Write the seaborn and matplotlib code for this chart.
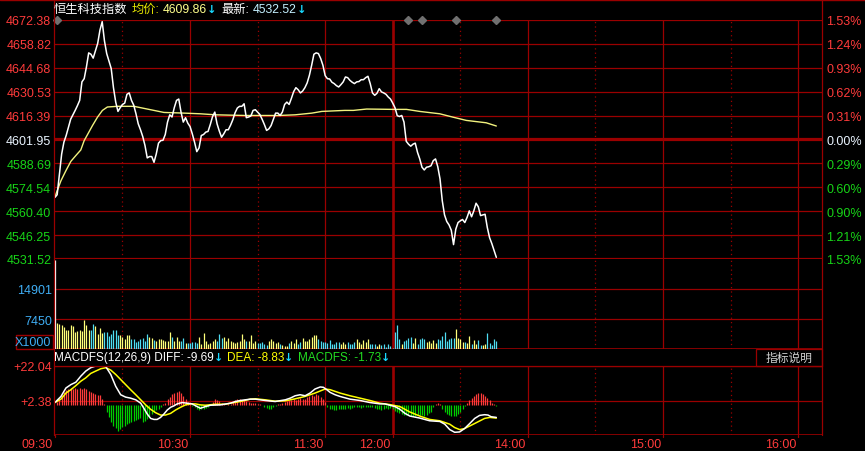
import numpy as np
import matplotlib
matplotlib.use('Agg')
import matplotlib.pyplot as plt
from matplotlib.lines import Line2D
from matplotlib.patches import Rectangle
from matplotlib.transforms import blended_transform_factory, offset_copy
import seaborn as sns

# minute index from 09:30 (lunch break 12:00-13:00 collapsed), session ends 16:10
price = [4567.8, 4569.4, 4581.6, 4593.4, 4600.4, 4604.3, 4609.2, 4613.9, 4616.5, 4619.1,
         4621.9, 4625.0, 4635.9, 4637.8, 4644.7, 4653.0, 4652.2, 4649.9, 4654.2, 4658.6,
         4666.4, 4671.4, 4660.1, 4652.6, 4648.3, 4643.8, 4632.5, 4624.0, 4618.5, 4620.7,
         4622.6, 4623.4, 4628.6, 4629.4, 4625.0, 4622.2, 4617.1, 4611.2, 4607.7, 4603.7,
         4598.4, 4591.1, 4591.9, 4591.9, 4588.5, 4593.4, 4599.8, 4601.3, 4601.5, 4604.9,
         4612.2, 4616.5, 4615.2, 4620.7, 4625.0, 4625.8, 4618.1, 4612.2, 4614.8, 4611.6,
         4609.6, 4605.3, 4600.4, 4594.8, 4597.0, 4604.3, 4604.9, 4606.3, 4606.7, 4610.8,
         4615.5, 4618.1, 4611.2, 4606.9, 4603.3, 4605.3, 4607.7, 4607.7, 4610.4, 4613.6,
         4617.7, 4620.5, 4621.5, 4621.5, 4623.0, 4614.8, 4615.2, 4615.8, 4619.1, 4619.5,
         4618.1, 4616.7, 4613.9, 4610.8, 4607.3, 4608.2, 4610.2, 4613.9, 4617.5, 4617.5,
         4616.1, 4618.1, 4622.6, 4624.0, 4622.6, 4626.2, 4630.1, 4632.5, 4631.3, 4629.4,
         4630.5, 4632.5, 4635.3, 4639.8, 4645.7, 4652.2, 4653.0, 4652.6, 4649.7, 4645.7,
         4639.6, 4637.8, 4637.6, 4635.7, 4634.9, 4633.7, 4632.9, 4634.3, 4635.9, 4638.8,
         4638.4, 4636.8, 4635.7, 4634.9, 4635.9, 4636.1, 4637.2, 4637.2, 4638.4, 4639.2,
         4634.9, 4629.4, 4628.0, 4629.2, 4631.9, 4630.0, 4629.4, 4628.6, 4627.0, 4625.8,
         4623.4, 4620.7, 4616.0, 4615.5, 4616.1, 4612.2, 4600.9, 4599.2, 4598.0, 4599.2,
         4599.8, 4594.4, 4590.5, 4585.6, 4584.0, 4585.6, 4585.9, 4586.5, 4589.5, 4590.5,
         4585.9, 4578.7, 4565.8, 4557.5, 4553.6, 4551.6, 4548.5, 4540.0, 4549.1, 4553.0,
         4554.0, 4554.8, 4553.0, 4556.0, 4559.9, 4556.4, 4559.9, 4564.4, 4562.3, 4557.1,
         4557.5, 4557.9, 4550.0, 4544.1, 4540.6, 4536.6, 4532.5]

avg_min = [0, 2.7, 4.9, 7.1, 9.3, 11.5, 13, 14.5, 16.7, 18.9, 21.1, 23.3, 27.7, 35.1, 42.5,
           48.4, 57.3, 64.6, 71.3, 84.6, 99.3, 106.7, 114.1, 118.5, 128.7, 132.5, 138.4,
           150.2, 156.1, 162, 170.9, 176.8, 182.7, 191.5, 196]
avg_price = [4568.2, 4577.7, 4583.6, 4589.1, 4592.5, 4595.8, 4601.3, 4604.9, 4610.2, 4615.1,
             4619.1, 4621.1, 4621.5, 4621.5, 4619.5, 4617.9, 4617.5, 4617.1, 4616.5, 4616.1,
             4616.1, 4616.5, 4617.5, 4618.5, 4619.1, 4619.1, 4619.9, 4619.7, 4619.7, 4618.5,
             4617.1, 4615.1, 4613.2, 4611.8, 4609.9]

# volume (x1000)
volume = [22000,
          6530, 6280, 5860, 5440, 4770, 4600, 6030, 5610, 4190, 4440, 4600, 4440, 7280, 6030,
          4600, 4770, 6280, 5690, 3770, 5270, 4020, 4270, 4100, 3350, 3770, 4770, 4600, 3430,
          3430, 3100, 2510, 3520, 3520, 2430, 2510, 1670, 1930, 2510, 2760, 2090, 3770, 2930,
          2760, 2260, 1930, 2430, 2510, 2260, 1930, 1930, 4100, 2930, 1930, 3100, 1930, 1930,
          2760, 1420, 1420, 1420, 1760, 1760, 1420, 3100, 1260, 3930, 1930, 1260, 1590, 1930,
          2590, 1930, 3770, 2760, 3100, 1930, 2760, 1930, 1760, 1590, 1760, 1930, 3770, 2430,
          1930, 1930, 3600, 1590, 1930, 1590, 1420, 1760, 1260, 1090, 1930, 2510, 1930, 1590,
          1760, 1260, 1090, 750, 750, 1420, 2090, 1420, 2430, 1260,
          1620, 2750, 1940, 1940, 2430, 3000, 3560, 3400, 2430, 2100, 1780, 1620, 1460, 2270,
          1130, 1130, 1780, 1780, 1130, 1620, 1130, 1780, 1130, 1300, 1620, 2430, 1780, 1130,
          2270, 1780, 2590, 1300, 1130, 1300, 810,
          1130, 970, 1300, 490, 1260, 840, 300, 4270, 6030,
          2430, 1260, 1930, 2260, 2760, 2930, 1510, 2760, 1260, 2430, 2760, 2430, 1760, 1930,
          1420, 2260, 1420, 2430, 2260, 3260, 4270, 1930, 2430, 2760, 2760, 5020, 2760, 2430,
          1760, 1760, 1590, 3260, 1260, 2260, 1260, 2260, 1090, 1090, 1260, 4020, 1420, 920,
          2430, 1930]

diff_min = [0, 2.7, 4.9, 7.1, 9.3, 11.5, 13.7, 15.9, 18.1, 20.4, 22.6, 24.8, 27.0, 29.2, 31.4,
            33.6, 35.9, 38.1, 39.5, 41.0, 42.5, 44.0, 45.4, 46.9, 48.4, 49.9, 51.4, 52.8,
            54.3, 56.5, 58.7, 60.9, 63.2, 64.6, 66.8, 69.1, 73.5, 77.9, 80.1, 82.3, 86.8,
            89.0, 93.4, 97.8, 102.3, 104.5, 106.7, 108.9, 111.1, 113.3, 115.5, 117.8, 119.2,
            120.7, 122.2, 124.4, 126.6, 131.0, 135.5, 139.9, 144.3, 146.5, 148.7, 151.0,
            153.2, 155.4, 157.6, 162.0, 166.4, 170.9, 173.1, 175.3, 177.5, 179.7, 181.9,
            184.2, 186.4, 188.6, 190.8, 192.3, 193.7, 196.0]
diff_val = [1.22, 4.69, 9.51, 11.44, 12.79, 16.25, 19.14, 21.07, 22.04, 22.42, 21.65, 17.22,
            10.47, 5.66, 4.31, 3.73, 2.77, 0.84, -2.05, -5.33, -7.83, -8.41, -8.41, -7.26,
            -5.33, -3.02, -1.47, -0.70, 0.45, 1.22, 0.84, 0.45, -1.09, -2.05, -1.09, -0.32,
            -0.12, 0.84, 1.80, 2.38, 3.15, 3.15, 2.38, 1.80, 2.77, 3.73, 5.08, 5.66, 5.08,
            6.62, 8.93, 10.09, 9.90, 8.55, 7.00, 5.66, 4.69, 3.15, 2.38, 1.22, 0.45, 0.45,
            -0.32, -1.09, -2.63, -4.94, -6.48, -7.64, -9.18, -9.57, -11.11, -14.19, -15.73,
            -15.54, -13.61, -10.72, -7.83, -6.10, -5.71, -5.91, -6.87, -7.26]

dea_min = [0, 2.7, 4.9, 7.1, 9.3, 11.5, 13.7, 15.9, 18.1, 20.4, 22.6, 24.8, 27.0, 29.2, 31.4,
           33.6, 35.9, 38.1, 40.3, 42.5, 44.7, 46.9, 49.1, 51.4, 53.6, 55.8, 58.0, 60.2,
           62.4, 64.6, 66.8, 71.3, 75.7, 77.9, 82.3, 86.8, 89.0, 93.4, 97.8, 102.3, 106.7,
           111.1, 115.5, 120.0, 122.2, 126.6, 131.0, 135.5, 139.9, 144.3, 148.7, 153.2,
           157.6, 162.0, 166.4, 170.9, 175.3, 177.5, 179.7, 181.9, 186.4, 190.8, 193.1, 196.0]
dea_val = [1.22, 3.15, 6.62, 8.55, 10.86, 13.36, 15.29, 17.80, 19.14, 20.49, 21.07, 19.72,
           17.22, 14.33, 11.44, 8.55, 5.66, 2.77, -0.12, -2.63, -4.56, -5.91, -5.91, -4.94,
           -3.02, -1.47, -0.12, 0.45, 0.45, -0.12, -0.32, 0.26, 0.26, 0.84, 1.80, 3.15, 3.34,
           2.77, 1.99, 2.19, 3.34, 4.69, 6.62, 8.93, 8.55, 6.62, 5.08, 3.73, 2.38, 0.84,
           0.07, -1.09, -4.17, -6.48, -8.41, -9.18, -11.11, -13.04, -14.19, -13.61, -10.72,
           -7.83, -7.26, -7.64]

macd_hist = [0.0,
             1.5, 3.5, 5.4, 7.3, 8.3, 9.2, 9.6, 8.9, 9.6, 9.2, 9.6, 9.2, 9.6, 8.9, 7.7, 7.3,
             6.4, 5.8, 5.4, 5.4, 3.5, 0.5,
             -4.2, -7.1, -10.0, -11.9, -13.5, -14.8, -13.9, -12.9, -11.9, -11.0, -10.4, -9.6,
             -9.1, -8.5, -8.1, -7.7, -10.0, -9.1, -8.1, -6.6, -5.2, -4.2, -3.3, -2.7, -1.3,
             0.3,
             1.2, 3.5, 4.4, 5.8, 6.4, 7.3, 7.7, 6.4, 5.0, 3.1, 1.5,
             0.3, -0.5,
             -1.3, -2.7, -3.3, -2.7, -2.3, -1.9, -1.3,
             -0.4,
             1.5, 3.1, 2.5, 1.9, 1.2,
             0.3, -0.3, 0.2, 0.5,
             1.5, 2.5, 3.5, 3.1, 2.9, 2.5, 1.9, 1.5, 1.2, 1.2, 0.8, 0.6, 0.4,
             -0.4,
             -1.3, -1.9, -2.7, -2.3, -1.5, -0.8,
             0.2,
             0.6, 1.2, 1.5, 1.9, 2.5, 2.9, 3.1, 2.5, 3.5, 3.9, 3.1, 3.5, 4.4, 5.0, 5.4, 5.0,
             5.8, 5.4, 4.4, 3.5, 1.5,
             -1.3, -2.3, -2.7, -3.3, -3.3, -2.7, -2.3, -2.7, -2.3, -1.9, -2.3, -1.9, -1.5,
             -1.3, -1.5, -1.9, -1.5, -1.3, -1.2, -1.3, -1.5, -1.9, -2.3, -2.7, -2.9, -2.3,
             -1.9, -2.3,
             -2.0, -2.7, -3.5, -4.2, -4.8, -5.2, -5.6, -5.8, -6.0, -6.2, -6.4, -6.2, -6.0,
             -5.8, -6.0, -6.2, -5.8, -5.0, -3.9, -1.5, 0.4, 1.0, 0.4, -2.5, -4.2, -5.2, -6.0,
             -6.6, -6.6, -6.2, -5.4, -3.9, -2.3, -0.8,
             1.2, 2.5, 3.9, 5.0, 5.8, 6.4, 6.4, 5.8, 5.0, 3.9, 2.5, 1.2,
             0.3, -1.0]

event_min = [1, 157, 163, 178, 196]

price_labels = ['4672.38', '4658.82', '4644.68', '4630.53', '4616.39', '4601.95',
                '4588.69', '4574.54', '4560.40', '4546.25', '4531.52']
pct_labels = ['1.53%', '1.24%', '0.93%', '0.62%', '0.31%', '0.00%',
              '0.29%', '0.60%', '0.90%', '1.21%', '1.53%']
vol_ticks = [7450, 14901]
macd_ticks = [2.38, 22.04]
macd_labels = ['+2.38', '+22.04']
time_pos = [0, 60, 120, 150, 210, 270, 330]
time_labels = ['09:30', '10:30', '11:30', '12:00', '14:00', '15:00', '16:00']
solid_min = [60, 120, 210, 270, 330]
dotted_min = [30, 90, 180, 240, 300]

RED = '#FF3B3B'
GREEN = '#17D417'
GRID = '#9A0000'
BLUE = '#3FAEF5'
ARROW = '#19D9FF'

sns.set_style('dark', {'axes.facecolor': 'black', 'figure.facecolor': 'black'})
plt.rcParams['font.family'] = ['Liberation Sans', 'Noto Sans CJK SC', 'DejaVu Sans']
plt.rcParams['font.size'] = 9

W, H = 865, 452
fig = plt.figure(figsize=(W / 100, H / 100), dpi=100, facecolor='black')
renderer = fig.canvas.get_renderer()


def pane(top, bottom):
    ax = fig.add_axes([54 / W, 1 - bottom / H, 768 / W, (bottom - top) / H])
    ax.set_facecolor('black')
    for s in ax.spines.values():
        s.set_visible(False)
    ax.set_xlim(-0.4, 340.6)
    ax.set_xticks([])
    ax.grid(False)
    for m in solid_min:
        ax.axvline(m, color=GRID, lw=0.9, zorder=0)
    ax.axvline(150, color=GRID, lw=1.9, zorder=0)
    for m in dotted_min:
        ax.axvline(m, color=GRID, lw=0.9, ls=(0, (1, 2.5)), zorder=0)
    return ax


def ftext(x, y, s, color, ha='left', size=9):
    fig.text(x / W, 1 - y / H, s, color=color, ha=ha, va='center', fontsize=size)


def text_row(x, y, parts, size):
    # parts: (text, colour, gap after); arrows drawn bold in DejaVu
    for s, c, gap in parts:
        kw = {}
        if s == '↓':
            kw = dict(family='DejaVu Sans', fontweight='bold', fontsize=size - 0.6)
        else:
            kw = dict(fontsize=size)
        t = fig.text(x / W, 1 - y / H, s, color=c, ha='left', va='center', **kw)
        x = t.get_window_extent(renderer).x1 + gap


minutes = np.arange(len(price))
lo, hi = 4531.52, 4672.38
pticks = np.linspace(hi, lo, 11)
label_colors = [RED] * 5 + ['#EAF4FF'] + [GREEN] * 5

# ---- price pane
ax = pane(21, 260)
ax.set_ylim(lo, hi)
for i, t in enumerate(pticks):
    lw = 2.3 if i in (5, 10) else 0.9
    ax.axhline(t, color=GRID, lw=lw, zorder=0)
sns.lineplot(x=avg_min, y=avg_price, ax=ax, color='#F2F27E', lw=1.0, zorder=3)
sns.lineplot(x=minutes, y=price, ax=ax, color='white', lw=1.1, zorder=4)
ax.plot(event_min, [hi] * len(event_min), 'D', ms=4.4, color='#707070',
        clip_on=False, zorder=6)
ax.set_xlabel('')
ax.set_ylabel('')
ax.set_yticks(pticks)
ax.set_yticklabels(price_labels)
ax.tick_params(axis='y', length=0, pad=2, labelsize=9)
for lab, c in zip(ax.get_yticklabels(), label_colors):
    lab.set_color(c)
axr = ax.twinx()
axr.set_ylim(lo, hi)
for s in axr.spines.values():
    s.set_visible(False)
axr.grid(False)
axr.set_yticks(pticks)
axr.set_yticklabels(pct_labels)
axr.tick_params(axis='y', length=0, pad=3, labelsize=9)
for lab, c in zip(axr.get_yticklabels(), label_colors):
    lab.set_color(c)

# ---- volume pane
axv = pane(260, 350)
axv.set_ylim(0, 22351)
for t in vol_ticks:
    axv.axhline(t, color=GRID, lw=0.9, zorder=0)
axv.axhline(0, color=GRID, lw=1.2, zorder=0)
vcolors = ['white'] + ['#FFFF7A' if p1 >= p0 else '#4FDDF2'
                       for p0, p1 in zip(price[:-1], price[1:])]
axv.vlines(np.arange(len(volume)), 0, volume, colors=vcolors[:len(volume)], lw=0.9, zorder=3)
axv.set_yticks(vol_ticks)
axv.set_yticklabels([str(t) for t in vol_ticks])
axv.tick_params(axis='y', length=0, pad=1.5, labelsize=9, labelcolor=BLUE)
fig.patches.append(Rectangle((16 / W, 1 - 350 / H), 37 / W, 14 / H, transform=fig.transFigure,
                             fill=False, edgecolor=GRID, lw=1))
ftext(51, 343, 'X1000', BLUE, ha='right')

# ---- MACD pane
axm = pane(367, 436)
axm.set_ylim(-17.28, 22.04)
for t in macd_ticks:
    axm.axhline(t, color=GRID, lw=0.9, zorder=0)
axm.axhline(-17.28, color=GRID, lw=1.2, zorder=0)
hcolors = [RED if v >= 0 else '#00CC00' for v in macd_hist]
axm.vlines(np.arange(len(macd_hist)), 0, macd_hist, colors=hcolors, lw=0.9, zorder=2)
sns.lineplot(x=dea_min, y=dea_val, ax=axm, color='#FFFF00', lw=1.1, zorder=3)
sns.lineplot(x=diff_min, y=diff_val, ax=axm, color='white', lw=1.1, zorder=4)
axm.set_xlabel('')
axm.set_ylabel('')
axm.set_yticks(macd_ticks)
axm.set_yticklabels(macd_labels)
axm.tick_params(axis='y', length=0, pad=1.5, labelsize=9, labelcolor=RED)
tr = offset_copy(blended_transform_factory(axm.transData, axm.transAxes), fig=fig,
                 x=-2, y=-3, units='dots')
for m, s in zip(time_pos, time_labels):
    axm.text(m, 0, s, transform=tr, ha='right', va='top', color=RED, fontsize=9)
    axm.plot([m, m], [-17.28, -18.5], color=GRID, lw=0.9, clip_on=False)

# ---- frame lines and headers
for x in (53.5, 822):
    fig.add_artist(Line2D([x / W, x / W], [1 - 436 / H, 1], color=GRID, lw=0.9))
fig.add_artist(Line2D([0, 1], [1 - 0.5 / H, 1 - 0.5 / H], color=GRID, lw=1))
fig.add_artist(Line2D([54 / W, 822 / W], [1 - 367 / H, 1 - 367 / H], color=GRID, lw=0.9))
fig.patches.append(Rectangle((756 / W, 1 - 367 / H), 66 / W, 17 / H, transform=fig.transFigure,
                             fill=False, edgecolor=GRID, lw=0.9))
ftext(789, 358.5, '指标说明', '#D0D0D0', ha='center', size=8.5)

text_row(54, 10, [('恒生科技指数', 'white', 4), ('均价:', '#E8E800', 3),
                  ('4609.86', '#FFFF8C', 0), ('↓', ARROW, 5), ('最新:', 'white', 4),
                  ('4532.52', '#C4F0FF', 0), ('↓', ARROW, 0)], 8.8)
text_row(54, 358, [('MACDFS(12,26,9) DIFF: -9.69', 'white', 0), ('↓', ARROW, 4),
                   ('DEA: -8.83', '#FFFF00', 0), ('↓', ARROW, 4),
                   ('MACDFS: -1.73', '#22DD22', 0), ('↓', ARROW, 0)], 8.5)

fig.savefig('out.png', dpi=100, facecolor='black')
